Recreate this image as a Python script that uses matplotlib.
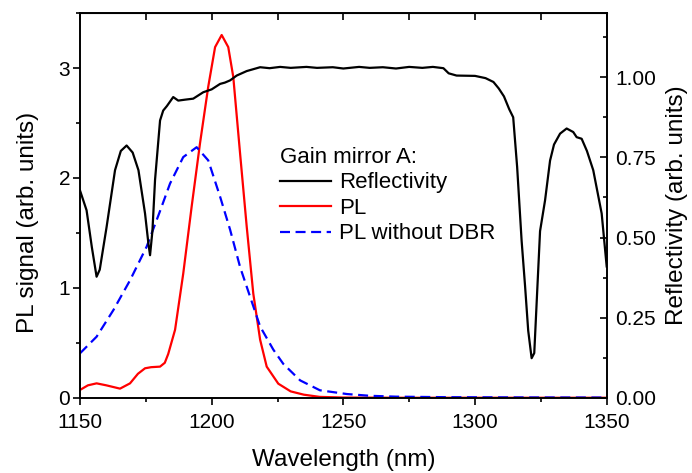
import numpy as np
from matplotlib import pyplot as plt

plt.rcParams['font.family'] = ['Liberation Sans', 'DejaVu Sans']

# reflectivity (right axis)
wl_r = [1150, 1152.5, 1154.5, 1156.3, 1157.5, 1160.1, 1163.3, 1165.5, 1167.7,
        1170, 1172.2, 1174.7, 1176, 1176.6, 1177.5, 1178.5, 1180.4, 1181.6,
        1183, 1185.4, 1187.3, 1190, 1193, 1196.8, 1200, 1203.2, 1205, 1207,
        1209.5, 1213.3, 1218.4, 1222, 1226, 1230, 1236, 1240, 1246, 1250,
        1256, 1260, 1265, 1270, 1275, 1280, 1284, 1288, 1290, 1293, 1300,
        1304, 1307, 1309, 1311, 1313, 1314.5, 1316, 1317.7, 1319, 1320.2,
        1321.5, 1322.5, 1324.7, 1326.6, 1328.5, 1330, 1332.3, 1334.8, 1337.3,
        1338.6, 1340.5, 1342.5, 1344.9, 1348.1, 1350]
refl = [0.647, 0.585, 0.47, 0.378, 0.40, 0.533, 0.71, 0.77, 0.787, 0.765,
        0.71, 0.575, 0.48, 0.445, 0.52, 0.68, 0.865, 0.896, 0.91, 0.938,
        0.927, 0.93, 0.933, 0.953, 0.962, 0.979, 0.983, 0.99, 1.005, 1.019,
        1.031, 1.028, 1.032, 1.029, 1.032, 1.029, 1.031, 1.027, 1.032,
        1.029, 1.031, 1.027, 1.032, 1.029, 1.032, 1.028, 1.012, 1.005, 1.004,
        0.997, 0.985, 0.965, 0.94, 0.90, 0.875, 0.72, 0.49, 0.35, 0.21, 0.124,
        0.14, 0.52, 0.616, 0.74, 0.79, 0.824, 0.84, 0.829, 0.813, 0.808, 0.77,
        0.71, 0.575, 0.41]

# PL (left axis)
wl_pl = [1150, 1153, 1156.3, 1160, 1165.2, 1169, 1172, 1174.7, 1177, 1180.4,
         1182.2, 1183.5, 1186.1, 1189.2, 1192.4, 1195.6, 1198.7, 1201.3,
         1203.8, 1206.3, 1208.2, 1210.8, 1213.3, 1215.8, 1218.4, 1220.9,
         1225.3, 1230, 1235, 1241, 1250, 1270, 1300, 1350]
pl = [0.073, 0.115, 0.133, 0.115, 0.085, 0.133, 0.22, 0.27, 0.28, 0.285, 0.32,
      0.40, 0.62, 1.13, 1.74, 2.32, 2.83, 3.19, 3.30, 3.19, 2.92, 2.22,
      1.56, 0.95, 0.53, 0.285, 0.13, 0.06, 0.03, 0.01, 0.004, 0.002, 0.002,
      0.002]

# PL without DBR (left axis)
wl_pl0 = [1150, 1156.3, 1162.7, 1169, 1175.3, 1180.4, 1184.2, 1189.2, 1194.3,
          1198.7, 1203.2, 1207, 1210.8, 1214.6, 1218.4, 1223.4, 1227.2, 1233.6,
          1241.1, 1251.3, 1260, 1270, 1290, 1320, 1350]
pl0 = [0.406, 0.557, 0.80, 1.07, 1.375, 1.70, 1.95, 2.19, 2.28, 2.16, 1.83,
       1.53, 1.19, 0.92, 0.65, 0.44, 0.31, 0.16, 0.07, 0.036, 0.02, 0.012,
       0.007, 0.005, 0.004]

fig = plt.figure(figsize=(6.92, 4.73), dpi=100)
ax = fig.add_axes([0.1156, 0.1586, 0.7611, 0.8139])
ax2 = ax.twinx()

l_pl, = ax.plot(wl_pl, pl, color='#ff0000', lw=1.6, label='PL')
l_pl0, = ax.plot(wl_pl0, pl0, color='#0000ff', lw=1.6, dashes=(4.5, 2.5),
                 label='PL without DBR')
l_r, = ax2.plot(wl_r, refl, color='black', lw=1.6, label='Reflectivity')

fs = 15
lfs = 17.5
ax.set_xlim(1150, 1350)
ax.set_ylim(0, 3.5)
ax2.set_ylim(0, 1.2)
ax.set_xticks([1150, 1200, 1250, 1300, 1350])
ax.set_xticks(np.arange(1175, 1350, 50), minor=True)
ax.set_yticks([0, 1, 2, 3])
ax.set_yticks([0.5, 1.5, 2.5, 3.5], minor=True)
ax2.set_yticks([0, 0.25, 0.5, 0.75, 1.0])
ax2.set_yticks([0.125, 0.375, 0.625, 0.875, 1.125], minor=True)
ax2.set_yticklabels(['0.00', '0.25', '0.50', '0.75', '1.00'])

ax.tick_params(axis='both', which='major', direction='out', length=5, width=1.2,
               labelsize=fs)
ax.tick_params(axis='x', which='major', pad=6)
ax.tick_params(axis='y', which='major', pad=2)
ax.tick_params(axis='both', which='minor', direction='out', length=3, width=1.2)
ax2.tick_params(axis='y', which='major', direction='in', length=5, width=1.2,
                labelsize=fs, pad=6)
ax2.tick_params(axis='y', which='minor', direction='in', length=3, width=1.2)

top = ax.secondary_xaxis('top')
top.set_xticks([1150, 1200, 1250, 1300, 1350])
top.set_xticks(np.arange(1175, 1350, 50), minor=True)
top.tick_params(which='both', direction='in', length=5, width=1.2, labeltop=False)

for a in (ax, ax2):
    for s in a.spines.values():
        s.set_linewidth(1.2)

ax.set_xlabel('Wavelength (nm)', fontsize=lfs, labelpad=12)
ax.set_ylabel('PL signal (arb. units)', fontsize=lfs, labelpad=14)
ax.yaxis.label.set_y(0.457)
ax2.set_ylabel('Reflectivity (arb. units)', fontsize=lfs, labelpad=7)

leg = ax2.legend(handles=[l_r, l_pl, l_pl0], title='Gain mirror A:',
                 loc='upper left', bbox_to_anchor=(0.379, 0.652), frameon=False,
                 fontsize=16, title_fontsize=16, handlelength=2.33,
                 handletextpad=0.36, labelspacing=0.2, borderpad=0,
                 borderaxespad=0, alignment='left')

fig.savefig('out.png', dpi=100)
